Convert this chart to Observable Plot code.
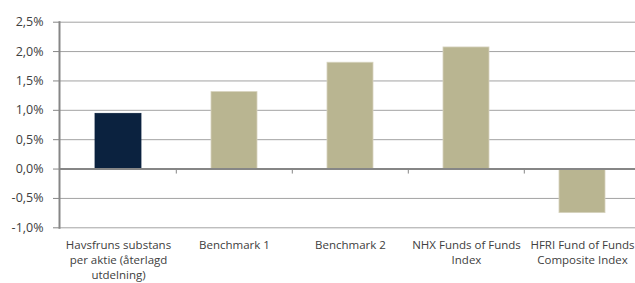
<!DOCTYPE html>
<html>
<head>
<meta charset="utf-8">
<script src="https://cdn.jsdelivr.net/npm/d3@7"></script>
<script src="https://cdn.jsdelivr.net/npm/@observablehq/plot@0.6"></script>
<style>
  html, body { margin: 0; padding: 0; background: #fff; overflow: hidden; }
  #chart svg { overflow: hidden; }
</style>
</head>
<body>
<div id="chart"></div>
<script>
const categories = ["Havsfruns", "Benchmark 1", "Benchmark 2", "NHX", "HFRI"];
const labels = [
  "Havsfruns substans\nper aktie (återlagd\nutdelning)",
  "Benchmark 1",
  "Benchmark 2",
  "NHX Funds of Funds\nIndex",
  "HFRI Fund of Funds\nComposite Index"
];
const values = [0.0094, 0.0131, 0.0181, 0.0207, -0.0075];
const yTicks = [-0.01, -0.005, 0, 0.005, 0.01, 0.015, 0.02, 0.025];

const NAVY = "#0b223f";
const TAN = "#b9b591";
const GRID = "#a3a3a3";
const AXIS = "#868686";
const TEXT = "#404040";
const FONT = "'Open Sans', sans-serif";

const W = 635, H = 283;
const mL = 59, mR = -6, mT = 21.7, mB = 55.7;
const step = (W - mL - mR) / categories.length;

const data = categories.map((c, i) => ({cat: c, value: values[i], label: labels[i], idx: i}));
const fmt = v => (v * 100).toFixed(1).replace(".", ",") + "%";

const plot = Plot.plot({
  width: W,
  height: H,
  marginLeft: mL,
  marginRight: mR,
  marginTop: mT,
  marginBottom: mB,
  style: {fontFamily: FONT, fontSize: "11px", color: TEXT, background: "#fff"},
  x: {domain: categories, paddingInner: 0.6, paddingOuter: 0.3, axis: null},
  y: {domain: [-0.01, 0.025], axis: null},
  color: {type: "identity"},
  marks: [
    Plot.ruleY(yTicks, {stroke: GRID, strokeWidth: 1}),
    Plot.barY(data, {x: "cat", y: "value", fill: d => d.idx === 0 ? NAVY : TAN, stroke: d => d.idx === 0 ? NAVY : "#d6d3bd", strokeWidth: 0.8}),
    Plot.ruleY([0], {stroke: AXIS, strokeWidth: 2}),
    Plot.ruleX(categories.slice(1), {x: d => d, dx: -step / 2, y1: 0, y2: 0, insetBottom: -5, stroke: AXIS, strokeWidth: 1}),
    Plot.frame({anchor: "left", stroke: AXIS, strokeWidth: 2}),
    Plot.axisY({ticks: yTicks, tickFormat: fmt, tickSize: 6, tickPadding: 10, stroke: AXIS, fill: TEXT, fontSize: 12.5, label: null}),
    Plot.text(data, {x: "cat", text: "label", frameAnchor: "bottom", dy: 10, lineAnchor: "top", lineHeight: 1.33, fill: TEXT, fontSize: 11.5})
  ]
});
document.getElementById("chart").appendChild(plot);
</script>
</body>
</html>
